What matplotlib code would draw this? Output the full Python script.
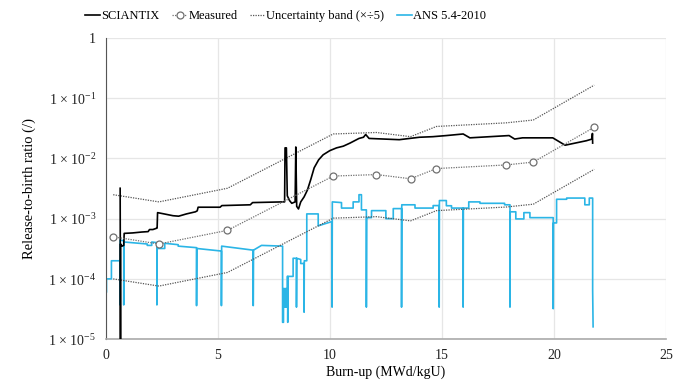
import matplotlib
matplotlib.use("Agg")
import matplotlib.pyplot as plt
import numpy as np

# Fonts
plt.rcParams['font.family'] = ['Liberation Serif', 'DejaVu Serif']
plt.rcParams['mathtext.fontset'] = 'custom'
plt.rcParams['mathtext.rm'] = 'Liberation Serif'

# Measured release-to-birth ratio
meas_bu = [0.33, 2.37, 5.43, 10.15, 12.08, 13.6, 14.76, 17.86, 19.08, 21.8]
meas_rb = [5.0e-4, 3.8e-4, 6.4e-4, 5.1e-3, 5.4e-3, 4.6e-3, 6.8e-3, 7.8e-3, 8.7e-3, 3.3e-2]
band_factor = 5

# SCIANTIX prediction
sci_bu = [0.64, 0.655, 0.66, 0.72, 0.80, 0.82, 1.2, 1.6, 1.89, 1.95, 2.1, 2.25, 2.29, 2.31,
          2.6, 3.0, 3.25, 3.6, 4.0, 4.08, 4.12, 5.1, 5.18, 6.45, 6.55, 7.9, 7.98, 8.0, 8.06,
          8.1, 8.2, 8.3, 8.45, 8.48, 8.52, 8.6, 8.7, 8.85, 9.0, 9.15, 9.3, 9.5, 9.7, 10.0,
          10.3, 10.6, 10.9, 11.3, 11.5, 11.6, 11.75, 13.1, 14.0, 14.6, 15.2, 15.95, 16.25,
          18.0, 18.25, 18.6, 19.95, 20.5, 21.45, 21.7, 21.72, 21.73]
sci_rb = [3.2e-3, 1.0e-5, 3.8e-4, 3.5e-4, 3.6e-4, 5.7e-4, 5.8e-4, 6.0e-4, 6.1e-4, 6.6e-4,
          6.6e-4, 6.9e-4, 7.0e-4, 1.26e-3, 1.2e-3, 1.12e-3, 1.1e-3, 1.2e-3, 1.3e-3, 1.35e-3,
          1.55e-3, 1.55e-3, 1.65e-3, 1.7e-3, 1.85e-3, 1.9e-3, 1.9e-3, 1.5e-2, 1.5e-2, 2.4e-3,
          2.0e-3, 1.8e-3, 1.9e-3, 1.55e-2, 1.6e-3, 1.45e-3, 1.9e-3, 2.3e-3, 3.0e-3, 4.5e-3,
          7.0e-3, 9.5e-3, 1.15e-2, 1.35e-2, 1.5e-2, 1.6e-2, 1.8e-2, 2.15e-2, 2.25e-2, 2.5e-2,
          2.15e-2, 2.05e-2, 2.25e-2, 2.3e-2, 2.4e-2, 2.55e-2, 2.2e-2, 2.4e-2, 2.1e-2, 2.2e-2,
          2.2e-2, 1.66e-2, 1.97e-2, 2.1e-2, 2.6e-2, 1.8e-2]

# ANS 5.4-2010 prediction
ans_bu = [0.0, 0.0, 0.03, 0.03, 0.25, 0.25, 0.63, 0.63, 0.64, 0.80, 0.80, 0.81, 1.85, 1.85,
          2.05, 2.05, 2.28, 2.28, 2.29, 2.63, 2.63, 3.23, 3.23, 4.05, 4.05, 4.06, 5.16, 5.16,
          5.17, 6.58, 6.58, 6.59, 6.95, 7.89, 7.89, 7.93, 7.93, 7.97, 7.97, 8.0, 8.0, 8.03,
          8.03, 8.07, 8.07, 8.1, 8.1, 8.12, 8.12, 8.13, 8.36, 8.36, 8.51, 8.51, 8.52, 8.7,
          8.7, 8.85, 8.85, 8.86, 8.97, 8.97, 9.48, 9.48, 10.07, 10.1, 10.1, 10.11, 10.52,
          10.52, 11.04, 11.04, 11.3, 11.3, 11.41, 11.41, 11.63, 11.63, 11.64, 11.86, 11.86,
          12.5, 12.5, 12.83, 12.83, 13.2, 13.2, 13.21, 13.8, 13.8, 14.61, 14.61, 14.88, 14.88,
          14.89, 15.2, 15.2, 15.43, 15.43, 15.95, 15.95, 15.96, 16.2, 16.2, 16.7, 16.7, 17.8,
          17.8, 18.04, 18.04, 18.05, 18.3, 18.3, 18.66, 18.66, 18.93, 18.93, 19.97, 19.97,
          19.98, 20.12, 20.12, 20.57, 20.57, 21.38, 21.38, 21.58, 21.58, 21.73, 21.73, 21.75]
ans_rb = [1.3e-5, 6.0e-5, 6.0e-5, 1.0e-4, 1.0e-4, 2.0e-4, 2.0e-4, 3.7e-5, 4.4e-4, 4.3e-4,
          3.7e-5, 4.1e-4, 3.8e-4, 3.6e-4, 3.6e-4, 4.1e-4, 4.0e-4, 3.7e-5, 3.2e-4, 3.2e-4,
          3.9e-4, 3.7e-4, 3.5e-4, 3.3e-4, 3.6e-5, 3.2e-4, 2.9e-4, 3.6e-5, 3.5e-4, 3.0e-4,
          3.6e-5, 3.0e-4, 3.6e-4, 3.5e-4, 1.9e-5, 1.9e-5, 6.9e-5, 6.9e-5, 3.4e-5, 3.4e-5,
          6.9e-5, 6.9e-5, 3.4e-5, 3.4e-5, 6.9e-5, 6.9e-5, 1.1e-4, 1.1e-4, 1.9e-5, 1.1e-4,
          1.1e-4, 2.2e-4, 2.2e-4, 3.4e-5, 2.2e-4, 2.1e-4, 1.8e-4, 1.8e-4, 2.8e-5, 2.0e-4,
          2.0e-4, 1.2e-3, 1.2e-3, 7.6e-4, 8.9e-4, 8.9e-4, 3.4e-5, 1.9e-3, 1.85e-3, 1.5e-3,
          1.5e-3, 1.9e-3, 1.9e-3, 2.5e-3, 2.5e-3, 1.4e-3, 1.4e-3, 3.4e-5, 1.04e-3, 1.04e-3,
          1.36e-3, 1.36e-3, 1.0e-3, 1.0e-3, 1.47e-3, 1.47e-3, 3.4e-5, 1.7e-3, 1.7e-3, 1.5e-3,
          1.5e-3, 1.65e-3, 1.65e-3, 3.4e-5, 2.0e-3, 2.0e-3, 1.64e-3, 1.64e-3, 1.5e-3, 1.5e-3,
          3.4e-5, 1.5e-3, 1.5e-3, 1.9e-3, 1.9e-3, 1.8e-3, 1.8e-3, 1.7e-3, 1.7e-3, 3.4e-5,
          1.3e-3, 1.3e-3, 9.9e-4, 9.9e-4, 1.26e-3, 1.26e-3, 1.04e-3, 1.04e-3, 3.2e-5, 8.5e-4,
          8.5e-4, 2.1e-3, 2.1e-3, 2.2e-3, 2.2e-3, 1.7e-3, 1.7e-3, 2.2e-3, 2.2e-3, 6.5e-5,
          1.6e-5]

yticks = [1e-5, 1e-4, 1e-3, 1e-2, 1e-1, 1]
ytick_labels = ['1 × 10$^{\\mathregular{-5}}$', '1 × 10$^{\\mathregular{-4}}$',
                '1 × 10$^{\\mathregular{-3}}$', '1 × 10$^{\\mathregular{-2}}$',
                '1 × 10$^{\\mathregular{-1}}$', '1']
xticks = [0, 5, 10, 15, 20, 25]

fig = plt.figure(figsize=(6.74, 3.88), dpi=100)
ax = fig.add_axes([0.157, 0.126, 0.831, 0.776])

meas = np.array(meas_rb)

ax.plot(sci_bu, sci_rb, color='black', lw=1.2, label='SCIANTIX', zorder=4)
ax.plot(meas_bu, meas_rb, color='#707070', lw=0.9, ls=(0, (1, 1)), marker='o', ms=5,
        mfc='white', mec='#707070', mew=0.9, label='Measured', zorder=5)
ax.plot(meas_bu, meas * band_factor, color='#555555', lw=0.9, ls=(0, (1, 1)),
        label='Uncertainty band (×÷5)', zorder=3)
ax.plot(meas_bu, meas / band_factor, color='#555555', lw=0.9, ls=(0, (1, 1)), zorder=3)
ax.plot(ans_bu, ans_rb, color='#2bb5e6', lw=1.2, label='ANS 5.4-2010', zorder=2)

# Axes
ax.set_yscale('log')
ax.set_ylim(1e-5, 1)
ax.set_xlim(0, 25)
ax.set_yticks(yticks)
ax.set_yticklabels(ytick_labels)
ax.minorticks_off()
ax.set_xticks(xticks)
ax.tick_params(length=0, labelsize=10, colors='#222222', pad=7)
ax.grid(True, color='#e6e6e6', lw=0.9)
ax.set_axisbelow(True)
for side in ['top', 'right']:
    ax.spines[side].set_visible(False)
ax.spines['left'].set_color('#555555')
ax.spines['bottom'].set_color('#aaaaaa')
ax.spines['bottom'].set_linewidth(1.2)

ax.set_xlabel('Burn-up (MWd/kgU)', fontsize=10, labelpad=3)
ax.set_ylabel('Release-to-birth ratio (/)', fontsize=10.5, labelpad=9)

fig.legend(loc='center', bbox_to_anchor=(0.424, 0.958), ncol=4, frameon=False,
           handlelength=1.2, handletextpad=0.1, columnspacing=1.0,
           prop={'family': ['Liberation Serif'], 'size': 9})

fig.savefig('out.png', dpi=100)
